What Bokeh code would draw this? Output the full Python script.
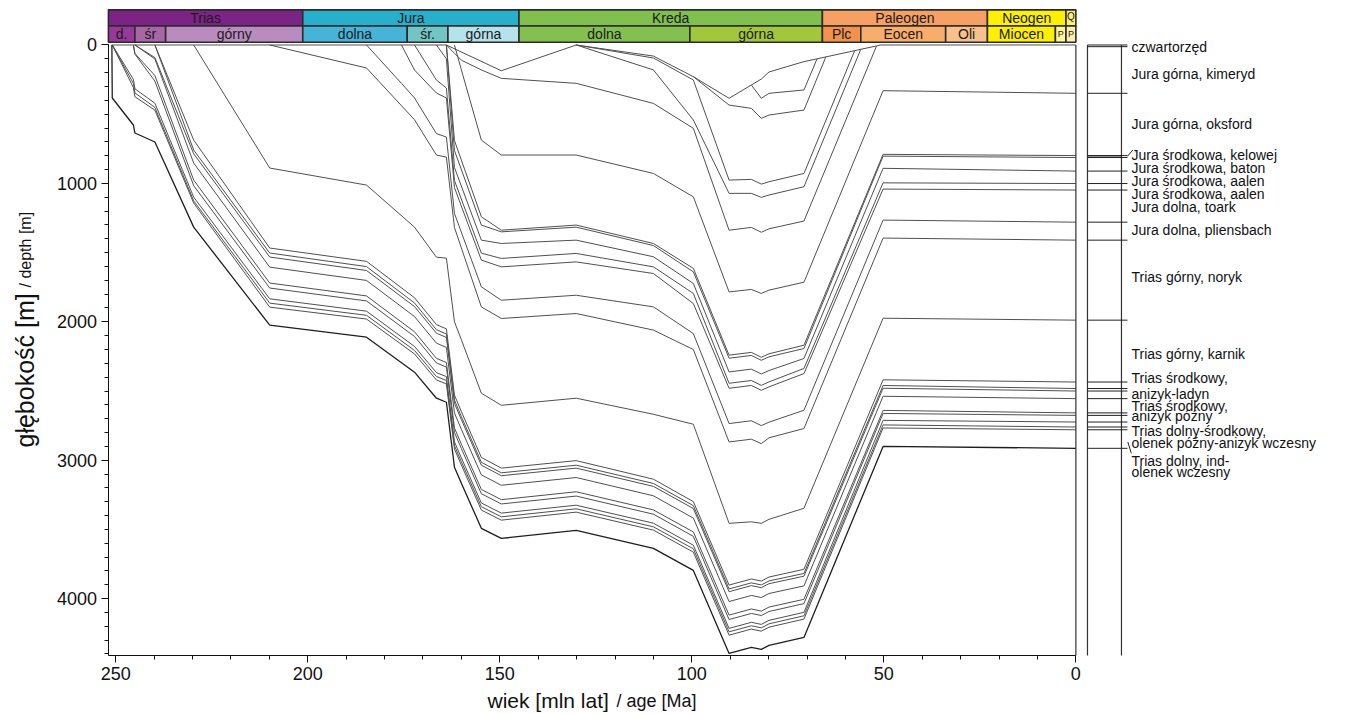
import math
from bokeh.plotting import figure
from bokeh.models import Range1d, FixedTicker
from bokeh.embed import file_html
from bokeh.resources import INLINE
from bokeh.core.properties import value

N = None

# ---------------- data ----------------
# time nodes of the burial model (Ma)
node_age = [251.0, 250.9, 245.4, 245.0, 239.8, 229.7, 209.9, 184.7, 175.6, 172.2,
            166.5, 163.9, 161.8, 160.0, 154.8, 149.6, 130.1, 110.0, 99.6, 90.3,
            84.5, 81.9, 79.9, 70.8, 67.4, 65.1, 57.6, 56.0, 51.9, 51.0, 50.2, 0.0]

# depth (m) of each horizon at each node (None = no point)
H1 = [0, 383, 578, 636, 701, 1316, 2024, 2111, N, 2364, 2552, 2581, 3051, 3167, 3492, 3565, 3507, 3637, 3796, 4396, 4352, 4367, 4338, 4280, N, N, N, N, N, N, 2900, 2914]
B1 = [N, 0, 308, 374, 471, 1142, 1894, 1980, N, 2232, 2420, 2449, 2919, 3035, 3360, 3433, 3375, 3505, 3664, 4264, 4220, 4235, 4206, 4148, N, N, N, N, N, N, 2767, 2780]
B2 = [N, 0, 278, 346, 451, 1126, 1865, 1953, N, 2207, 2395, 2424, 2895, 3011, 3336, 3409, 3351, 3481, 3640, 4240, 4196, 4211, 4182, 4124, N, N, N, N, N, N, 2745, 2760]
B3 = [N, 0, 248, 316, 421, 1099, 1834, 1923, N, 2178, 2367, 2396, 2867, 2983, 3309, 3382, 3325, 3455, 3614, 4215, 4171, 4186, 4157, 4099, N, N, N, N, N, N, 2712, 2724]
B4 = [N, N, 0, 66, 261, 1016, 1756, 1849, N, 2106, 2297, 2327, 2799, 2916, 3242, 3316, 3259, 3390, 3550, 4151, 4107, 4122, 4093, 4036, N, N, N, N, N, N, 2662, 2676]
B5 = [N, N, 0, 61, 221, 976, 1720, 1813, N, 2072, 2264, 2294, 2767, 2884, 3211, 3285, 3228, 3359, 3518, 4119, 4075, 4090, 4061, 4005, N, N, N, N, N, N, 2640, 2658]
B6 = [N, N, N, 0, 101, 853, 1605, 1701, N, 1962, 2154, 2185, 2659, 2777, 3106, 3181, 3125, 3257, 3418, 4021, 3977, 3992, 3963, 3908, N, N, N, N, N, N, 2538, 2555]
B7 = [N, N, N, 0, 91, 786, 1532, 1629, N, 1890, 2082, 2113, 2589, 2707, 3036, 3112, 3057, 3189, 3349, 3950, 3906, 3921, 3892, 3838, N, N, N, N, N, N, 2480, 2500]
B8 = [N, N, N, N, 0, 759, 1503, 1601, N, 1864, 2057, 2088, 2565, 2685, 3015, 3091, 3036, 3168, 3328, 3930, 3886, 3901, 3872, 3818, N, N, N, N, N, N, 2460, 2482]
B9 = [N, N, N, N, 0, 687, 1467, 1563, N, 1826, 2020, 2051, 2529, 2649, 2980, 3057, 3003, 3137, 3299, 3902, 3858, 3873, 3844, 3788, N, N, N, N, N, N, 2419, 2435]
U0 = [N, N, N, N, N, 0, 889, 1012, N, 1316, 1533, 1540, 2000, 2130, 2516, 2603, 2552, 2668, 2740, 3456, 3445, 3456, 3427, 3347, N, N, N, N, N, N, 1974, 1988]
Jm = [N, N, N, N, N, N, 0, 166, N, 540, 795, 810, 1319, N, 1892, 1976, 1940, 2060, 2200, 2868, 2848, 2880, 2838, 2771, N, N, N, N, N, N, 1395, 1410]
Jl = [N, N, N, N, N, N, N, 0, 277, 383, 640, 665, 1217, N, 1747, 1844, 1808, 1892, 2085, 2735, 2715, 2750, 2725, 2639, N, N, N, N, N, N, 1265, 1280]
J5 = [N, N, N, N, N, N, N, N, 0, 181, 347, 383, 1030, N, 1554, 1603, 1567, 1651, 1868, 2480, 2460, 2495, 2470, 2374, N, N, N, N, N, N, 1041, 1048]
J4 = [N, N, N, N, N, N, N, N, N, 0, 253, 311, 979, N, 1504, 1542, 1506, 1603, 1795, 2444, 2424, 2459, 2434, 2337, N, N, N, N, N, N, 996, 1001]
J3 = [N, N, N, N, N, N, N, N, N, N, 0, 100, 885, N, 1410, 1434, 1410, 1530, 1723, 2362, 2342, 2377, 2352, 2265, N, N, N, N, N, N, 891, 911]
J2 = [N, N, N, N, N, N, N, N, N, N, N, 0, 762, N, 1301, 1350, 1316, 1449, 1639, 2263, 2243, 2278, 2253, 2193, N, N, N, N, N, N, 803, 813]
J1 = [N, N, N, N, N, N, N, N, N, N, N, 0, 690, N, 1241, 1338, 1301, 1434, 1614, 2241, 2221, 2256, 2231, 2169, N, N, N, N, N, N, 790, 799]
Jf = [N, N, N, N, N, N, N, N, N, N, N, N, 0, 180, 687, 795, 795, 928, 1097, 1784, 1766, 1795, 1771, 1714, N, N, N, N, N, N, 330, 349]
Je = [N, N, N, N, N, N, N, N, N, N, N, 0, 60, 110, 180, 241, 277, 422, 602, 1338, 1318, 1353, 1328, 1272, N, N, N, N, 7, N, N, N]
Kb2 = [N, N, N, N, N, N, N, N, N, N, N, N, N, N, N, N, 0, 180, 542, 1072, 1072, 1101, 1084, 1024, N, N, N, 31, N, N, N, N]
Kb = [N, N, N, N, N, N, N, N, N, N, N, N, N, N, N, N, 0, 94, 253, 976, 971, 1005, 988, 928, N, N, 41, N, N, N, N, N]
Ka = [N, N, N, N, N, N, N, N, N, N, N, N, N, N, N, N, N, N, 229, 434, 458, 530, 506, 470, N, 86, N, N, N, N, N, N]
Kg = [N, N, N, N, N, N, N, N, N, N, N, N, N, N, N, N, N, N, N, N, 289, 385, 349, 325, 100, N, N, N, N, N, N, N]
Surf = [0, N, N, N, N, N, N, N, N, N, N, 0, N, N, N, 186, 0, 80, 229, 385, 289, 246, 195, 120, 100, 86, 41, 31, 7, 0, N, 0]

quaternary_base = 12

# geological time scale (Ma)
period_names = ["Trias", "Jura", "Kreda", "Paleogen", "Neogen", "Q"]
period_start = [251.9, 201.3, 145.0, 66.0, 23.03, 2.58]
period_end = [201.3, 145.0, 66.0, 23.03, 2.58, 0.0]
period_colors = ["#7C2486", "#27AFCB", "#81C04F", "#F6A163", "#FFF000", "#FBEE7C"]

epoch_names = ["d.", "śr", "górny", "dolna", "śr.", "górna", "dolna", "górna",
               "Plc", "Eocen", "Oli", "Miocen", "P", "P"]
epoch_start = [251.9, 245.0, 237.0, 201.3, 174.1, 163.5, 145.0, 100.5, 66.0, 56.0, 33.9, 23.03, 5.33, 2.58]
epoch_end = [245.0, 237.0, 201.3, 174.1, 163.5, 145.0, 100.5, 66.0, 56.0, 33.9, 23.03, 5.33, 2.58, 0.0]
epoch_colors = ["#983999", "#A866A9", "#B98BBE", "#45B4D8", "#71C5C3", "#B6E2EC",
                "#83C050", "#A3C73C", "#F3924D", "#F8AD6A", "#F9C08C", "#FFF000", "#FFF59A", "#FFEFA8"]

strat_labels = ["czwartorzęd", "Jura górna, kimeryd", "Jura górna, oksford",
                "Jura środkowa, kelowej", "Jura środkowa, baton", "Jura środkowa, aalen",
                "Jura środkowa, aalen", "Jura dolna, toark", "Jura dolna, pliensbach",
                "Trias górny, noryk", "Trias górny, karnik", "Trias środkowy,", "anizyk-ladyn",
                "Trias środkowy,", "anizyk późny", "Trias dolny-środkowy,",
                "olenek późny-anizyk wczesny", "Trias dolny, ind-", "olenek wczesny"]
strat_label_depth = [16, 206, 574, 798, 892, 986, 1073, 1174, 1340, 1678, 2236, 2409, 2525,
                     2605, 2682, 2792, 2877, 3009, 3087]

x_ticks = [0, 50, 100, 150, 200, 250]
y_ticks = [0, 1000, 2000, 3000, 4000]

# ---------------- figure ----------------
FONT = "Liberation Sans"
AGE_AXIS = 252.0          # age at which the depth axis stands
DEPTH_AXIS = 4411         # depth at which the age axis stands

p = figure(width=1340, height=712, x_range=Range1d(280.0, -68.9), y_range=Range1d(4822.7, -321.5),
           output_backend="svg", toolbar_location=None, min_border=0)
p.outline_line_color = None
p.grid.visible = False
p.background_fill_color = "white"

# axes (library axes, fixed at the corner of the burial plot)
p.xaxis.ticker = FixedTicker(ticks=x_ticks, minor_ticks=list(range(0, 251, 10)))
p.yaxis.ticker = FixedTicker(ticks=y_ticks, minor_ticks=list(range(0, 4401, 100)))
p.xaxis.fixed_location = DEPTH_AXIS
p.yaxis.fixed_location = AGE_AXIS
p.xaxis.bounds = (0, AGE_AXIS)
p.yaxis.bounds = (0, DEPTH_AXIS)
for ax in (p.xaxis, p.yaxis):
    ax.major_tick_in = 0
    ax.major_tick_out = 7
    ax.minor_tick_in = 0
    ax.minor_tick_out = 4
    ax.axis_line_color = "#111111"
    ax.major_tick_line_color = "#111111"
    ax.minor_tick_line_color = "#111111"
    ax.major_label_text_font = FONT
    ax.major_label_text_font_size = "18px"
    ax.major_label_text_color = "#111111"
    ax.major_label_standoff = 4
    ax.axis_label = None

# time-scale bar
ROW1 = (-254, -137)
ROW2 = (-137, -20)
p.quad(left=period_start, right=period_end, top=[ROW1[0]] * len(period_names),
       bottom=[ROW1[1]] * len(period_names), fill_color=period_colors,
       line_color="#2b2b2b", line_width=1.6)
p.quad(left=epoch_start, right=epoch_end, top=[ROW2[0]] * len(epoch_names),
       bottom=[ROW2[1]] * len(epoch_names), fill_color=epoch_colors,
       line_color="#2b2b2b", line_width=1.6)

big_p = [i for i in range(len(period_names)) if period_start[i] - period_end[i] > 5]
small_p = [i for i in range(len(period_names)) if period_start[i] - period_end[i] <= 5]
p.text(x=[(period_start[i] + period_end[i]) / 2 for i in big_p], y=[(ROW1[0] + ROW1[1]) / 2] * len(big_p),
       text=[period_names[i] for i in big_p], text_align="center", text_baseline="middle",
       text_font=value(FONT), text_font_size="14px", text_color="#1a1a1a")
p.text(x=[(period_start[i] + period_end[i]) / 2 for i in small_p], y=[(ROW1[0] + ROW1[1]) / 2 - 10] * len(small_p),
       text=[period_names[i] for i in small_p], text_align="center", text_baseline="middle",
       text_font=value(FONT), text_font_size="10px", text_color="#1a1a1a")
big_e = [i for i in range(len(epoch_names)) if epoch_start[i] - epoch_end[i] > 5]
small_e = [i for i in range(len(epoch_names)) if epoch_start[i] - epoch_end[i] <= 5]
p.text(x=[(epoch_start[i] + epoch_end[i]) / 2 for i in big_e], y=[(ROW2[0] + ROW2[1]) / 2] * len(big_e),
       text=[epoch_names[i] for i in big_e], text_align="center", text_baseline="middle",
       text_font=value(FONT), text_font_size="14px", text_color="#1a1a1a")
p.text(x=[(epoch_start[i] + epoch_end[i]) / 2 for i in small_e], y=[(ROW2[0] + ROW2[1]) / 2] * len(small_e),
       text=[epoch_names[i] for i in small_e], text_align="center", text_baseline="middle",
       text_font=value(FONT), text_font_size="9px", text_color="#1a1a1a")

# burial curves
curves = [Surf, Ka, Kg, Kb, Kb2, Je, Jf, J1, J2, J3, J4, J5, Jl, Jm, U0,
          B9, B8, B7, B6, B5, B4, B3, B2, B1, H1]
for dep in curves:
    xs = [a for a, d in zip(node_age, dep) if d is not None]
    ys = [d for d in dep if d is not None]
    if dep is H1:
        p.line(xs, ys, line_color="#1e1e1e", line_width=1.3)
    else:
        p.line(xs, ys, line_color="#505050", line_width=1.0)

# present-day line at 0 Ma
p.segment(x0=[0], y0=[0], x1=[0], y1=[DEPTH_AXIS], line_color="#333333", line_width=1.2)

# stratigraphic column
CL, CR, CT = -3.02, -11.87, -13.43
present = [0, quaternary_base] + [c[-1] for c in curves if c[-1] not in (None, 0)]
p.quad(left=[CL], right=[CR], top=[J1[-1]], bottom=[J2[-1]], fill_color="#9a9a9a",
       line_color="#555555", line_width=0.8)
p.segment(x0=[CL, CR], y0=[0, 0], x1=[CL, CR], y1=[DEPTH_AXIS, DEPTH_AXIS],
          line_color="#333333", line_width=1.2)
p.segment(x0=[CL] * len(present), y0=present, x1=[CT] * len(present), y1=present,
          line_color="#222222", line_width=1.0)
# leader marks
p.segment(x0=[CT, CT - 0.1], y0=[J1[-1] + 5, 2868], x1=[CT - 1.4, CT - 1.0], y1=[J1[-1] - 40, 2950],
          line_color="#222222", line_width=1.0)

p.text(x=[-14.48] * len(strat_labels), y=strat_label_depth, text=strat_labels,
       text_align="left", text_baseline="middle", text_font=value(FONT),
       text_font_size="14px", text_color="#111111")

# axis titles (mixed sizes, as in the original)
p.text(x=[153.2], y=[4736], text=["wiek [mln lat]"], text_align="left", text_baseline="alphabetic",
       text_font=value(FONT), text_font_size="21px", text_color="#111111")
p.text(x=[119.6], y=[4736], text=["/ age [Ma]"], text_align="left", text_baseline="alphabetic",
       text_font=value(FONT), text_font_size="18px", text_color="#111111")
p.text(x=[273.6], y=[2908], text=["głębokość [m]"], angle=math.pi / 2, text_align="left",
       text_baseline="alphabetic", text_font=value(FONT), text_font_size="25px", text_color="#111111")
p.text(x=[273.6], y=[1752], text=["/ depth [m]"], angle=math.pi / 2, text_align="left",
       text_baseline="alphabetic", text_font=value(FONT), text_font_size="16px", text_color="#111111")

open("out.html", "w").write(file_html(p, INLINE))
